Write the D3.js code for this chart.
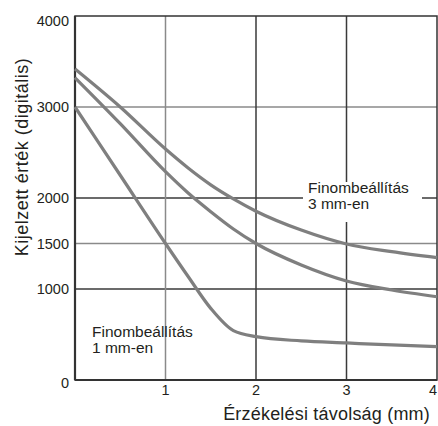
<!DOCTYPE html>
<html><head><meta charset="utf-8">
<script src="https://cdn.jsdelivr.net/npm/d3@7"></script>
<style>body{margin:0;background:#fff}svg{display:block}text{font-family:"Liberation Sans",Arial,Helvetica,sans-serif;fill:#231f20}</style>
</head><body><svg id="c" width="438" height="426"></svg>
<script>
const distances = [0, 0.5, 1, 1.25, 1.5, 1.75, 2, 2.5, 3, 3.5, 4];
const series3mm = [3418, 3000, 2538, 2330, 2145, 1990, 1855, 1648, 1495, 1410, 1344];
const series2mm = [3322, 2817, 2289, 2055, 1850, 1660, 1500, 1264, 1088, 989, 915];
const series1mm = [3000, 2250, 1500, 1137, 787, 542, 476, 430, 407, 385, 366];
const yTicks = [0, 1000, 1500, 2000, 3000, 4000];
const xTicks = [1, 2, 3, 4];
const yTitle = "Kijelzett érték (digitális)";
const xTitle = "Érzékelési távolság (mm)";
const label1 = ["Finombeállítás", "1 mm-en"];
const label3 = ["Finombeállítás", "3 mm-en"];

const svg = d3.select("#c");
const x = d3.scaleLinear().domain([0, 4]).range([75, 437]);
const y = d3.scaleLinear().domain([0, 4000]).range([380, 16]);

const grayLines = new Set([1500, 3000]);
svg.append("g").selectAll("line").data(yTicks.filter(v => v > 0 && v < 4000)).join("line")
  .attr("x1", x(0)).attr("x2", x(4)).attr("y1", d => y(d)).attr("y2", d => y(d))
  .attr("stroke", d => grayLines.has(d) ? "#8a8a8a" : "#3a3a3a").attr("stroke-width", 1.5);
svg.append("g").selectAll("line").data(xTicks.filter(v => v < 4)).join("line")
  .attr("x1", d => x(d)).attr("x2", d => x(d)).attr("y1", y(0)).attr("y2", y(4000))
  .attr("stroke", d => d === 1 ? "#8a8a8a" : "#3a3a3a").attr("stroke-width", 1.5);

// frame
svg.append("rect").attr("x", x(0)).attr("y", y(4000)).attr("width", x(4) - x(0)).attr("height", y(0) - y(4000))
  .attr("fill", "none").attr("stroke", "#333").attr("stroke-width", 1.5);
svg.append("line").attr("x1", x(0)).attr("x2", x(0)).attr("y1", y(4000)).attr("y2", y(0)).attr("stroke", "#333").attr("stroke-width", 2.2);
svg.append("line").attr("x1", x(0)).attr("x2", x(4)).attr("y1", y(0)).attr("y2", y(0)).attr("stroke", "#333").attr("stroke-width", 2.2);

// label box for 3mm
svg.append("rect").attr("x", 303).attr("y", 182).attr("width", 119).attr("height", 40).attr("fill", "#fff");

const line = d3.line().x((d, i) => x(distances[i])).y(d => y(d)).curve(d3.curveMonotoneX);
[series3mm, series2mm, series1mm].forEach(s => {
  svg.append("path").attr("d", line(s)).attr("fill", "none").attr("stroke", "#7f7f7f").attr("stroke-width", 3.2);
});

// y tick labels
svg.append("g").selectAll("text").data(yTicks).join("text")
  .attr("x", 69).attr("y", d => d === 4000 ? y(d) + 10 : (d === 0 ? y(d) + 8 : y(d) + 5))
  .attr("text-anchor", "end").attr("font-size", 14.5).text(d => d);
// x tick labels
svg.append("g").selectAll("text").data(xTicks).join("text")
  .attr("x", d => d === 4 ? x(d) - 4 : x(d)).attr("y", 395)
  .attr("text-anchor", "middle").attr("font-size", 14.5).text(d => d);

svg.append("text").attr("transform", "translate(28,157) rotate(-90)").attr("text-anchor", "middle")
  .attr("font-size", 18).attr("letter-spacing", 0.5).text(yTitle);
svg.append("text").attr("x", 430).attr("y", 420).attr("text-anchor", "end").attr("font-size", 18)
  .attr("letter-spacing", 0.2).text(xTitle);

label1.forEach((t, i) => svg.append("text").attr("x", 92).attr("y", 337 + i * 16).attr("font-size", 15.5).text(t));
label3.forEach((t, i) => svg.append("text").attr("x", 308).attr("y", 193 + i * 16).attr("font-size", 15.5).text(t));
</script></body></html>
